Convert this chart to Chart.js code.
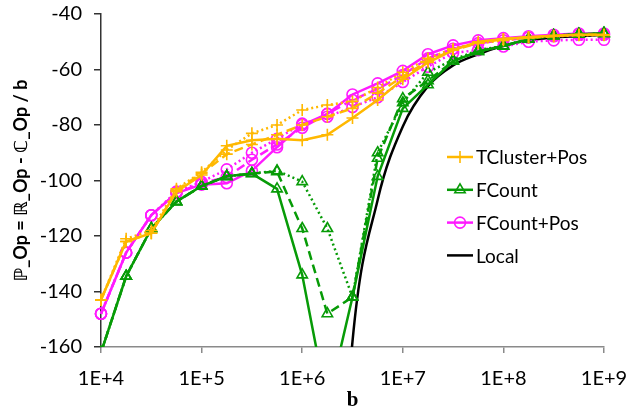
<!DOCTYPE html>
<html>
<head>
<meta charset="utf-8">
<script src="https://cdn.jsdelivr.net/npm/chart.js@4.4.1/dist/chart.umd.min.js"></script>
<style>
  html, body { margin: 0; padding: 0; background: #fff; }
  #wrap { width: 631px; height: 411px; }
</style>
</head>
<body>
<div id="wrap"><canvas id="chart" width="631" height="411"></canvas></div>
<script>
// sampled b values (quarter decades from 1E+4 to 1E+9)
const bValues = [1e4, 17783, 31623, 56234, 1e5, 177828, 316228, 562341, 1e6, 1778279,
  3162278, 5623413, 1e7, 17782794, 31622777, 56234133, 1e8, 177827941, 316227766, 562341325, 1e9];
const xTicks = [1e4, 1e5, 1e6, 1e7, 1e8, 1e9];
const yTicks = [-160, -140, -120, -100, -80, -60, -40];

// TCluster+Pos (solid / dashed / dotted variants)
const tclusterSolid  = [-143, -122, -119, -104, -98, -87.5, -85.5, -85, -85.5, -83.5, -77.5, -71, -63.5, -57.5, -53, -50, -49, -48.3, -47.8, -47.5, -47.5];
const tclusterDashed = [-143, -122, -119, -103.5, -97.5, -90.5, -87, -83.5, -80, -77, -74, -68.5, -62.5, -57, -53, -50.5, -49, -48.5, -48, -47.5, -47.5];
const tclusterDotted = [-143, -121, -118, -103, -97, -89, -83, -80, -74.6, -72.8, -71.5, -66.5, -61, -56, -52.5, -50.5, -49.5, -48.5, -48, -47.7, -47.7];

// FCount
const fcountSolid  = [-162, -134.5, -117.3, -107.6, -102, -98.5, -97.5, -103, -134, -181, -142, -98.5, -74, -65.5, -57, -53.5, -51.5, -49, -47.8, -47.3, -47];
const fcountDashed = [-162, -134.5, -117.3, -107.6, -102, -98.5, -97.5, -96.8, -117.3, -148, -142, -92, -70.5, -64, -57, -53.5, -51.5, -49, -47.8, -47.3, -47];
const fcountDotted = [-162, -134.5, -117.3, -107.6, -102, -98.5, -97.5, -96.5, -100.4, -117.3, -142, -90, -72, -61, -56.5, -53, -51.5, -49, -47.8, -47.3, -47];

// FCount+Pos
const fcountPosSolid  = [-148, -126, -112.5, -104.5, -101.5, -101, -96.5, -88, -80, -76, -69, -65, -60.5, -54.5, -51.3, -49.5, -48.7, -48, -47.5, -47, -47];
const fcountPosDashed = [-148, -126, -112.5, -104.5, -101, -98.8, -92.5, -87, -81, -76, -71, -67, -62, -56, -52.5, -50.5, -49.5, -48.5, -48, -47.5, -47.5];
const fcountPosDotted = [-148, -126, -112.5, -104, -100.5, -96, -90, -85, -79.5, -77, -73.5, -70, -64.5, -59, -54, -53, -51.7, -50, -49.5, -49.3, -49.3];

// Local
const localValues = [null, null, null, null, null, null, null, null, null, -300, -158, -107, -80.5, -66, -58.5, -54.5, -51.5, -49.5, -48.5, -48, -47.5];

const ORANGE = '#FFB800';
const GREEN = '#079B07';
const MAGENTA = '#FF1AFF';

function pts(vals) {
  return bValues.map((b, i) => ({ x: b, y: vals[i] }));
}

function series(label, vals, color, marker, dash, legend) {
  return {
    label: label,
    data: pts(vals),
    borderColor: color,
    borderWidth: 2.5,
    borderDash: dash,
    pointStyle: marker,
    pointRadius: marker === 'circle' ? 5.5 : 6,
    pointBorderWidth: 1.6,
    pointBorderColor: color,
    pointBackgroundColor: 'rgba(0,0,0,0)',
    tension: 0,
    clip: { left: 12, top: 12, right: 12, bottom: 0 },
    showInLegend: legend
  };
}

const datasets = [
  series('TCluster+Pos', tclusterSolid, ORANGE, 'cross', [], true),
  series('TCluster+Pos dashed', tclusterDashed, ORANGE, 'cross', [9, 5], false),
  series('TCluster+Pos dotted', tclusterDotted, ORANGE, 'cross', [2, 3], false),
  series('FCount', fcountSolid, GREEN, 'triangle', [], true),
  series('FCount dashed', fcountDashed, GREEN, 'triangle', [9, 5], false),
  series('FCount dotted', fcountDotted, GREEN, 'triangle', [2, 3], false),
  series('FCount+Pos', fcountPosSolid, MAGENTA, 'circle', [], true),
  series('FCount+Pos dashed', fcountPosDashed, MAGENTA, 'circle', [9, 5], false),
  series('FCount+Pos dotted', fcountPosDotted, MAGENTA, 'circle', [2, 3], false),
  {
    label: 'Local',
    data: pts(localValues),
    borderColor: '#000',
    borderWidth: 2.5,
    pointRadius: 0,
    cubicInterpolationMode: 'monotone',
    clip: { left: 12, top: 12, right: 12, bottom: 0 },
    showInLegend: true
  }
];

// legend drawn inside the plot, like the original
const insideLegend = {
  id: 'insideLegend',
  afterDraw(chart) {
    const ctx = chart.ctx;
    const rows = chart.data.datasets.filter(d => d.showInLegend);
    let y = 157;
    ctx.save();
    rows.forEach(d => {
      ctx.strokeStyle = d.borderColor;
      ctx.lineWidth = 2.5;
      ctx.setLineDash([]);
      ctx.beginPath();
      ctx.moveTo(447, y);
      ctx.lineTo(473, y);
      ctx.stroke();
      if (d.pointRadius) {
        ctx.lineWidth = 1.6;
        ctx.fillStyle = 'rgba(0,0,0,0)';
        Chart.helpers.drawPoint(ctx, { pointStyle: d.pointStyle, radius: d.pointRadius, rotation: 0, borderWidth: 1.6 }, 460, y);
      }
      ctx.fillStyle = '#000';
      ctx.font = '19px Lato, "DejaVu Sans", sans-serif';
      ctx.textBaseline = 'middle';
      ctx.textAlign = 'left';
      ctx.fillText(d.label, 476, y + 1);
      y += 32.8;
    });
    ctx.restore();
  }
};

// keep the plot box where the original has it
function noOverflow(axis) {
  axis.paddingTop = 0;
  axis.paddingBottom = 0;
  axis.paddingLeft = 0;
  axis.paddingRight = 0;
}

new Chart(document.getElementById('chart'), {
  type: 'line',
  data: { datasets: datasets },
  plugins: [insideLegend],
  options: {
    responsive: false,
    animation: false,
    layout: { padding: { top: 14, right: 27, left: 0, bottom: 0 } },
    plugins: {
      legend: { display: false },
      tooltip: { enabled: false }
    },
    scales: {
      x: {
        type: 'logarithmic',
        min: 1e4,
        max: 1e9,
        afterBuildTicks: axis => { axis.ticks = xTicks.map(v => ({ value: v })); },
        afterFit: axis => { axis.height = 64; noOverflow(axis); },
        border: { display: true, color: '#8a8a8a', width: 1.5 },
        grid: { display: true, drawOnChartArea: false, drawTicks: true, tickLength: 6, color: '#8a8a8a', lineWidth: 1.5 },
        ticks: {
          autoSkip: false,
          maxRotation: 0,
          padding: 14,
          color: '#000',
          font: { family: 'Lato', size: 20 },
          callback: v => '1E+' + Math.round(Math.log10(v))
        },
        title: {
          display: true,
          text: 'b',
          color: '#000',
          font: { family: '"Liberation Serif"', size: 21, weight: 'bold', lineHeight: 1 },
          padding: { top: 0, bottom: 0 }
        }
      },
      y: {
        min: -160,
        max: -40,
        afterBuildTicks: axis => { axis.ticks = yTicks.map(v => ({ value: v })); },
        afterFit: axis => { axis.width = 101; noOverflow(axis); },
        border: { display: true, color: '#333', width: 1.5 },
        grid: { display: true, drawOnChartArea: false, drawTicks: true, tickLength: 7, color: '#333', lineWidth: 1.5 },
        ticks: {
          padding: 12,
          color: '#000',
          font: { family: 'Lato', size: 20 }
        },
        title: {
          display: true,
          text: 'ℙ_Op = ℝ_Op - ℂ_Op / b',
          color: '#000',
          font: { family: 'Lato, "DejaVu Sans"', size: 18, weight: 'bold' },
          padding: { top: 10, bottom: 0 }
        }
      }
    }
  }
});
</script>
</body>
</html>
